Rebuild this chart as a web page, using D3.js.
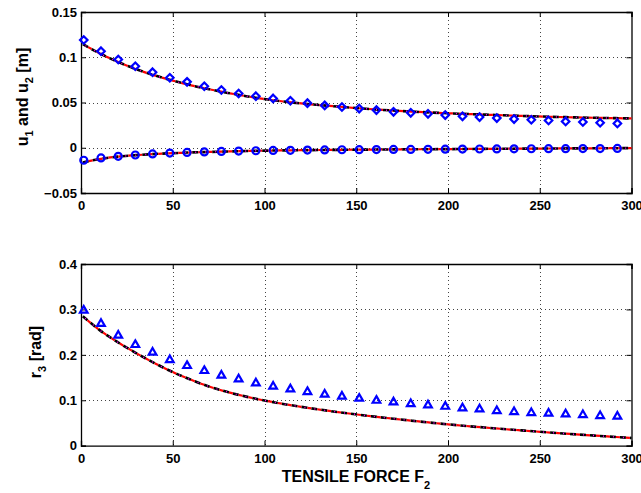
<!DOCTYPE html>
<html>
<head>
<meta charset="utf-8">
<script src="https://cdn.jsdelivr.net/npm/d3@7"></script>
<style>
  html, body { margin: 0; padding: 0; background: #fff; }
  svg { display: block; }
  text { font-family: "Liberation Sans", Arial, Helvetica, sans-serif; font-weight: bold; fill: #000; }
</style>
</head>
<body>
<svg id="chart" width="641" height="493"></svg>
<script>
// ---------------- DATA ----------------
// Tensile force samples for the measured markers
const markerForce = [1.5, 10.9, 20.3, 29.6, 39, 48.4, 57.8, 67.2, 76.5, 85.9, 95.3, 104.7,
  114.1, 123.4, 132.8, 142.2, 151.6, 161, 170.3, 179.7, 189.1, 198.5, 207.9, 217.2,
  226.6, 236, 245.4, 254.8, 264.1, 273.5, 282.9, 292.3];
// u1 markers (diamonds)
const u1Markers = [0.119, 0.1067, 0.0975, 0.0900, 0.0835, 0.0773, 0.0728, 0.0680, 0.0638, 0.0600,
  0.0570, 0.0545, 0.0519, 0.0493, 0.0468, 0.0450, 0.0433, 0.0416, 0.0397, 0.0386,
  0.0375, 0.0361, 0.0347, 0.0339, 0.0328, 0.0317, 0.0309, 0.0302, 0.0291, 0.0284,
  0.0276, 0.0269];
// u2 markers (circles)
const u2Markers = [-0.0138, -0.0112, -0.0095, -0.0080, -0.0068, -0.0059, -0.0052, -0.0046, -0.0041,
  -0.0037, -0.0033, -0.0030, -0.0028, -0.0026, -0.0024, -0.0022, -0.0021, -0.0020,
  -0.0019, -0.0018, -0.0017, -0.0016, -0.0015, -0.0014, -0.0013, -0.0012, -0.0011,
  -0.0010, -0.0010, -0.0009, -0.0009, -0.0008];
// r3 markers (triangles)
const r3Markers = [0.299, 0.2696, 0.2438, 0.2233, 0.2064, 0.1900, 0.1770, 0.1660, 0.1557, 0.1476,
  0.1388, 0.1315, 0.1255, 0.1197, 0.1139, 0.1095, 0.1050, 0.1005, 0.0968, 0.0930,
  0.0903, 0.0873, 0.0837, 0.0815, 0.0778, 0.0756, 0.0734, 0.0720, 0.0705, 0.0690,
  0.0668, 0.0654];

// Model curves (black dashed / red dash-dot / magenta dotted overlap)
const modelForce = [1, 10, 20, 30, 40, 50, 60, 70, 80, 90, 100, 120, 140, 160, 180, 200,
  220, 240, 260, 280, 300];
const u1Model = [0.1145, 0.1045, 0.095, 0.0868, 0.0800, 0.0742, 0.0690, 0.0646, 0.0606, 0.0570,
  0.0538, 0.0490, 0.0455, 0.0424, 0.0400, 0.0381, 0.0366, 0.0352, 0.0340, 0.0331, 0.0324];
const u2Model = [-0.0162, -0.0125, -0.0098, -0.0082, -0.0069, -0.0060, -0.0052, -0.0046, -0.0041,
  -0.0036, -0.0032, -0.0027, -0.0023, -0.0020, -0.0017, -0.0015, -0.0012, -0.0010,
  -0.0008, -0.0006, -0.0004];
const r3Model = [0.285, 0.255, 0.228, 0.204, 0.182, 0.162, 0.145, 0.130, 0.118, 0.108,
  0.0995, 0.0855, 0.0740, 0.0640, 0.0552, 0.0470, 0.0400, 0.0337, 0.0277, 0.0222, 0.0170];

// Ticks
const xTicks = [0, 50, 100, 150, 200, 250, 300];
const xTickLabels = ["0", "50", "100", "150", "200", "250", "300"];
const yTicksTop = [-0.05, 0, 0.05, 0.1, 0.15];
const yTickLabelsTop = ["\u22120.05", "0", "0.05", "0.1", "0.15"];
const yTicksBot = [0, 0.1, 0.2, 0.3, 0.4];
const yTickLabelsBot = ["0", "0.1", "0.2", "0.3", "0.4"];

// ---------------- LAYOUT ----------------
const svg = d3.select("#chart");
const X0 = 81, X1 = 631.5;
const panels = [
  { top: 12, bottom: 193, yDomain: [-0.05, 0.15], yTicks: yTicksTop, yLabels: yTickLabelsTop },
  { top: 264, bottom: 445.7, yDomain: [0, 0.4], yTicks: yTicksBot, yLabels: yTickLabelsBot }
];

const x = d3.scaleLinear().domain([0, 300]).range([X0, X1]);

function drawPanel(p) {
  const y = d3.scaleLinear().domain(p.yDomain).range([p.bottom, p.top]);
  const g = svg.append("g");

  // grid
  const grid = g.append("g").attr("stroke", "#444").attr("stroke-width", 1)
    .attr("stroke-dasharray", "1,3");
  grid.selectAll("line.gx").data(xTicks.filter(t => t > 0 && t < 300)).enter()
    .append("line").attr("x1", d => Math.round(x(d)) + 0.5).attr("x2", d => Math.round(x(d)) + 0.5)
    .attr("y1", p.top).attr("y2", p.bottom);
  grid.selectAll("line.gy").data(p.yTicks.filter(t => t > p.yDomain[0] && t < p.yDomain[1])).enter()
    .append("line").attr("y1", d => Math.round(y(d)) + 0.5).attr("y2", d => Math.round(y(d)) + 0.5)
    .attr("x1", X0).attr("x2", X1);

  // axes with inward ticks
  const tl = 5;
  const bottomAxis = d3.axisBottom(x).tickValues(xTicks)
    .tickFormat((d, i) => xTickLabels[i]).tickSize(-tl).tickPadding(8);
  const leftAxis = d3.axisLeft(y).tickValues(p.yTicks)
    .tickFormat((d, i) => p.yLabels[i]).tickSize(-tl).tickPadding(4);
  const topAxis = d3.axisTop(x).tickValues(xTicks).tickFormat("").tickSize(-tl);
  const rightAxis = d3.axisRight(y).tickValues(p.yTicks).tickFormat("").tickSize(-tl);

  const styleAxis = sel => {
    sel.selectAll("path.domain").attr("stroke", "#000").attr("stroke-width", 1.3);
    sel.selectAll(".tick line").attr("stroke", "#000").attr("stroke-width", 1);
    sel.selectAll("text").attr("font-size", 13).attr("font-weight", "bold")
      .attr("font-family", "'Liberation Sans', Arial, sans-serif").attr("fill", "#000");
  };
  g.append("g").attr("transform", `translate(0,${p.bottom})`).call(bottomAxis).call(styleAxis);
  g.append("g").attr("transform", `translate(${X0},0)`).call(leftAxis).call(styleAxis);
  g.append("g").attr("transform", `translate(0,${p.top})`).call(topAxis).call(styleAxis);
  g.append("g").attr("transform", `translate(${X1},0)`).call(rightAxis).call(styleAxis);
  return { g, y };
}

function drawModel(g, y, vals) {
  const pts = modelForce.map((f, i) => [f, vals[i]]);
  const line = d3.line().x(d => x(d[0])).y(d => y(d[1])).curve(d3.curveMonotoneX);
  g.append("path").attr("d", line(pts)).attr("fill", "none")
    .attr("stroke", "#000").attr("stroke-width", 2.6).attr("stroke-dasharray", "6,4");
  g.append("path").attr("d", line(pts)).attr("fill", "none")
    .attr("stroke", "#ff0000").attr("stroke-width", 2.2).attr("stroke-dasharray", "4,6")
    .attr("stroke-dashoffset", -6);
  g.append("path").attr("d", line(pts)).attr("fill", "none")
    .attr("stroke", "#ff00ff").attr("stroke-width", 1.4).attr("stroke-dasharray", "1,9")
    .attr("stroke-dashoffset", -3);
}

const blue = "#0000ff";

// ---- Top panel ----
const topP = drawPanel(panels[0]);
drawModel(topP.g, topP.y, u1Model);
drawModel(topP.g, topP.y, u2Model);
const diamond = d3.symbol().type(d3.symbolDiamond2).size(36);
topP.g.append("g").selectAll("path").data(markerForce).enter().append("path")
  .attr("d", diamond).attr("transform", (d, i) => `translate(${x(d)},${topP.y(u1Markers[i])})`)
  .attr("fill", "none").attr("stroke", blue).attr("stroke-width", 2.2);
topP.g.append("g").selectAll("circle").data(markerForce).enter().append("circle")
  .attr("cx", d => x(d)).attr("cy", (d, i) => topP.y(u2Markers[i])).attr("r", 3.5)
  .attr("fill", "none").attr("stroke", blue).attr("stroke-width", 2.2);

// ---- Bottom panel ----
const botP = drawPanel(panels[1]);
drawModel(botP.g, botP.y, r3Model);
const tri = d3.symbol().type(d3.symbolTriangle2).size(42);
botP.g.append("g").selectAll("path").data(markerForce).enter().append("path")
  .attr("d", tri).attr("transform", (d, i) => `translate(${x(d)},${botP.y(r3Markers[i]) + 0.5})`)
  .attr("fill", "none").attr("stroke", blue).attr("stroke-width", 2.2).attr("stroke-linejoin", "miter");

// ---- Axis labels ----
const yl1 = svg.append("text").attr("font-size", 16)
  .attr("transform", "translate(28,97) rotate(-90)").attr("text-anchor", "middle");
yl1.append("tspan").text("u");
yl1.append("tspan").attr("font-size", 11).attr("dy", 5).text("1");
yl1.append("tspan").attr("dy", -5).text(" and u");
yl1.append("tspan").attr("font-size", 11).attr("dy", 5).text("2");
yl1.append("tspan").attr("dy", -5).text(" [m]");

const yl2 = svg.append("text").attr("font-size", 16)
  .attr("transform", "translate(41,352) rotate(-90)").attr("text-anchor", "middle");
yl2.append("tspan").text("r");
yl2.append("tspan").attr("font-size", 11).attr("dy", 5).text("3");
yl2.append("tspan").attr("dy", -5).text(" [rad]");

const xl = svg.append("text").attr("font-size", 16)
  .attr("x", 356).attr("y", 481.5).attr("text-anchor", "middle");
xl.append("tspan").text("TENSILE FORCE F");
xl.append("tspan").attr("font-size", 11).attr("dy", 7).text("2");
</script>
</body>
</html>
